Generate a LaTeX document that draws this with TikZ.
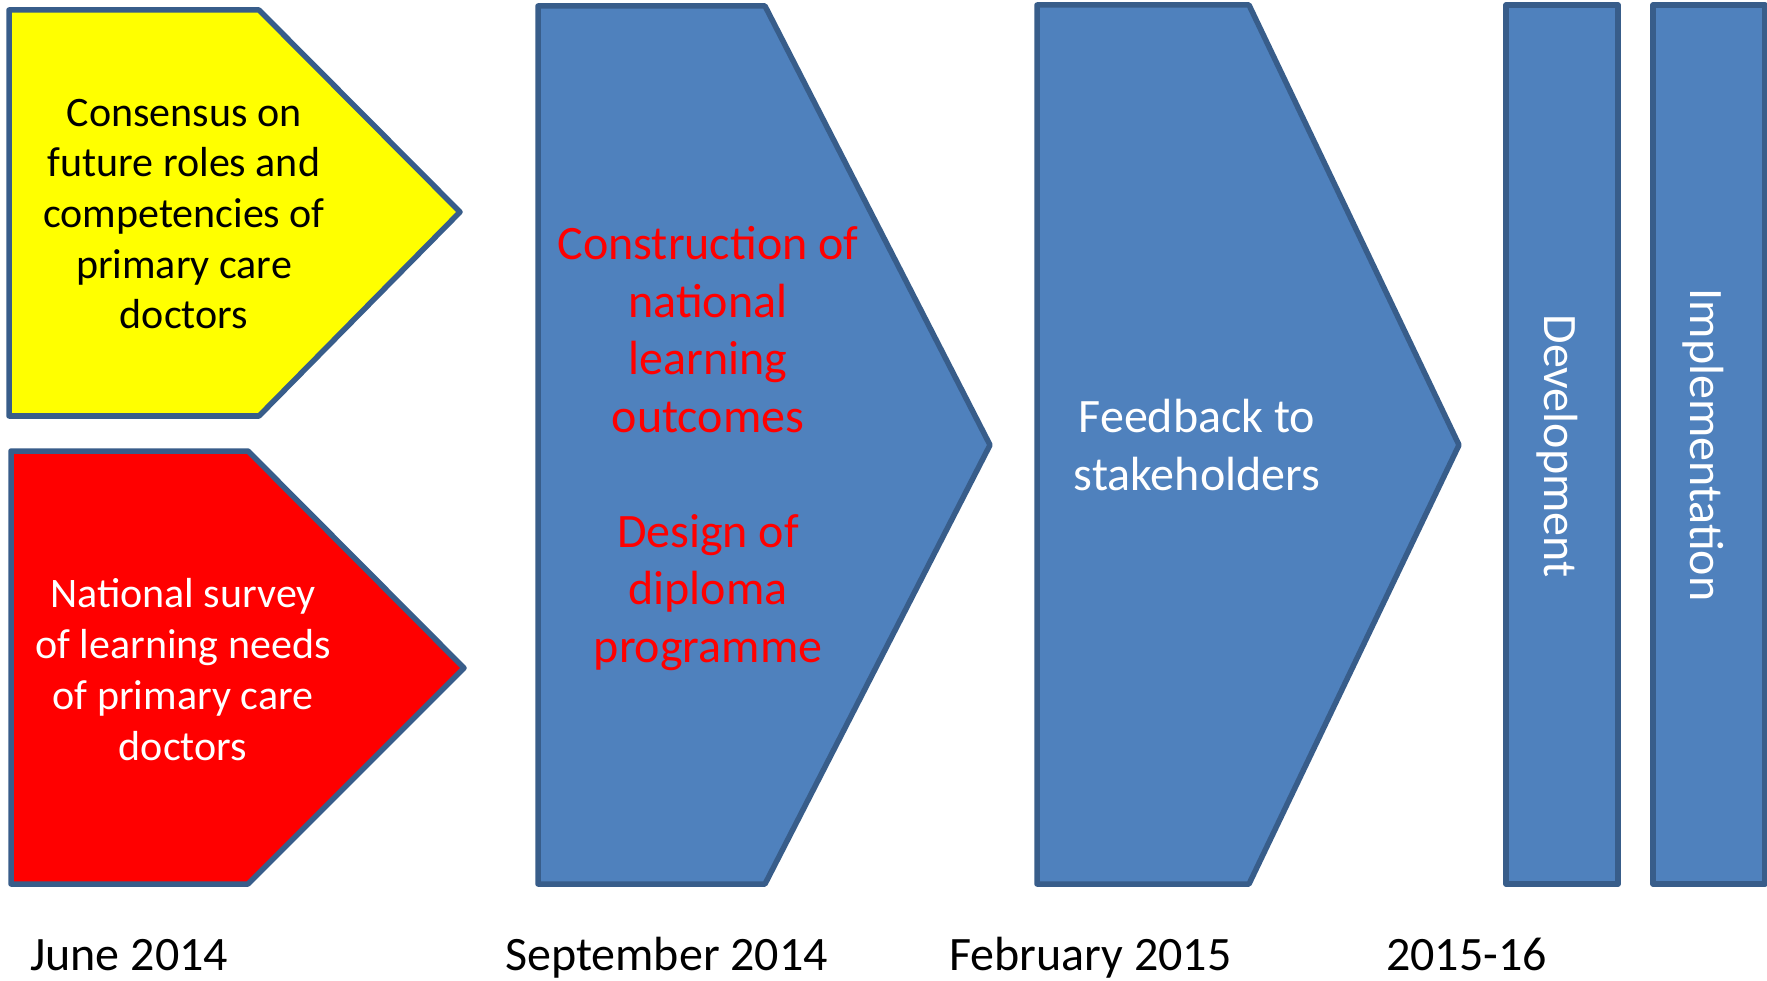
\documentclass[tikz,border=0pt]{standalone}
\usepackage{fontspec}
\setmainfont{Carlito}
\definecolor{acc}{HTML}{4F81BD}
\definecolor{accline}{HTML}{385D8A}
\definecolor{pyellow}{HTML}{FFFF00}
\definecolor{pred}{HTML}{FF0000}
\tikzset{
  shp/.style={draw=accline, line width=5.5pt, line join=round},
  txtsmall/.style={inner sep=0pt, align=center, font=\fontsize{42pt}{50.7pt}\selectfont},
  txtbig/.style={inner sep=0pt, align=center, font=\fontsize{48pt}{57.5pt}\selectfont},
}
\begin{document}
\begin{tikzpicture}[x=1pt,y=-1pt]
\useasboundingbox (0,0) rectangle (1767,981);
\fill[white] (0,0) rectangle (1767,981);
% shapes
\draw[shp, fill=pyellow] (9,10) -- (259,10) -- (460,212) -- (259,416) -- (9,416) -- cycle;
\draw[shp, fill=pred] (11,451) -- (248,451) -- (464,668) -- (248,884) -- (11,884) -- cycle;
\draw[shp, fill=acc] (538,6) -- (765,6) -- (990,445) -- (765,884) -- (538,884) -- cycle;
\draw[shp, fill=acc] (1037,5) -- (1249,5) -- (1459,445) -- (1249,884) -- (1037,884) -- cycle;
\draw[shp, fill=acc] (1506,5) rectangle (1618,884);
\draw[shp, fill=acc] (1653,5) rectangle (1765,884);
% texts (base anchor = baseline of last line)
\node[txtsmall, anchor=base] (consensus) at (184,329) {Consensus on\\future roles and\\competencies of\\primary care\\doctors};
\node[txtsmall, white, anchor=base] (survey) at (183,760) {National survey\\of learning needs\\of primary care\\doctors};
\node[txtbig, text=pred, anchor=base] (construction) at (708,662) {Construction of\\national\\learning\\outcomes\\\mbox{}\\Design of\\diploma\\programme};
\node[txtbig, white, anchor=base] (feedback) at (1197,490) {Feedback to\\stakeholders};
\node[txtbig, white, rotate=-90] (development) at (1557,446) {Development};
\node[txtbig, white, rotate=-90] (implementation) at (1703,445) {Implementation};
% dates
\node[txtbig, anchor=base west] (june) at (30,970) {June 2014};
\node[txtbig, anchor=base west] (september) at (505,970) {September 2014};
\node[txtbig, anchor=base west] (february) at (949,970) {February 2015};
\node[txtbig, anchor=base west] (years) at (1386,970) {2015-16};
\end{tikzpicture}
\end{document}
